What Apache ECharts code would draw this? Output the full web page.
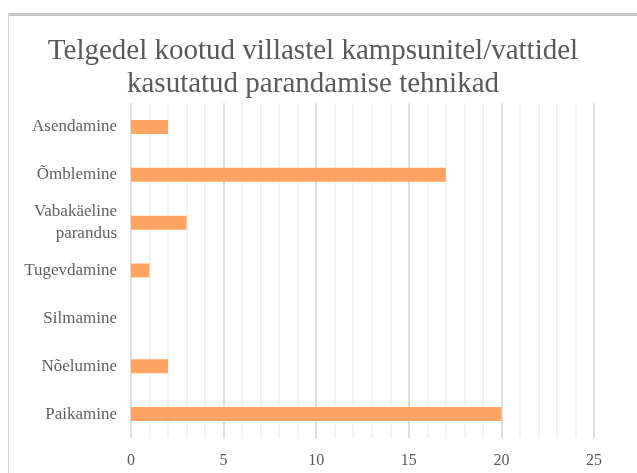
<!DOCTYPE html>
<html>
<head>
<meta charset="utf-8">
<script src="https://cdn.jsdelivr.net/npm/echarts@6/dist/echarts.min.js"></script>
<style>
  html, body { margin: 0; padding: 0; background: #fff; }
  #chart { width: 637px; height: 473px; }
</style>
</head>
<body>
<div id="chart"></div>
<script>
// andmed (ülevalt alla)
var categories = ['Asendamine', 'Õmblemine', 'Vabakäeline\nparandus', 'Tugevdamine', 'Silmamine', 'Nõelumine', 'Paikamine'];
var values = [2, 17, 3, 1, 0, 2, 20];
var xTicks = [0, 5, 10, 15, 20, 25];

var chart = echarts.init(document.getElementById('chart'));

var options = {
    backgroundColor: '#fff',
    animation: false,
    textStyle: { fontFamily: 'Liberation Serif' },
    title: {
        text: 'Telgedel kootud villastel kampsunitel/vattidel\nkasutatud parandamise tehnikad',
        left: 308,
        top: 30,
        textAlign: 'center',
        textStyle: {
            fontFamily: 'Liberation Serif',
            fontWeight: 'normal',
            fontSize: 29,
            lineHeight: 33,
            color: '#595959'
        }
    },
    graphic: [
        // raam (ekraanipildi serv)
        { type: 'rect', shape: { x: 8, y: 13, width: 640, height: 3 }, style: { fill: '#c8c8c8' } },
        { type: 'rect', shape: { x: 8, y: 13, width: 1, height: 470 }, style: { fill: '#d6d6d6' } }
    ],
    grid: { left: 131, right: 43, top: 103, bottom: 35 },
    xAxis: {
        type: 'value',
        min: xTicks[0],
        max: xTicks[xTicks.length - 1],
        interval: 5,
        axisLine: { show: false },
        axisTick: { show: false },
        axisLabel: { color: '#595959', fontSize: 16, margin: 15 },
        splitLine: { lineStyle: { color: '#d4d4d4', width: 1.5 } },
        minorTick: { show: false, splitNumber: 5 },
        minorSplitLine: { show: true, lineStyle: { color: '#efefef', width: 1.5 } }
    },
    yAxis: {
        type: 'category',
        inverse: true,
        data: categories,
        axisLine: { show: false },
        axisTick: { show: false },
        axisLabel: { color: '#5f5f5f', fontSize: 17, lineHeight: 22, margin: 14, align: 'right' }
    },
    series: [{
        type: 'bar',
        data: values,
        barWidth: 14,
        itemStyle: { color: '#ffa563' }
    }]
};

chart.setOption(options);
</script>
</body>
</html>
